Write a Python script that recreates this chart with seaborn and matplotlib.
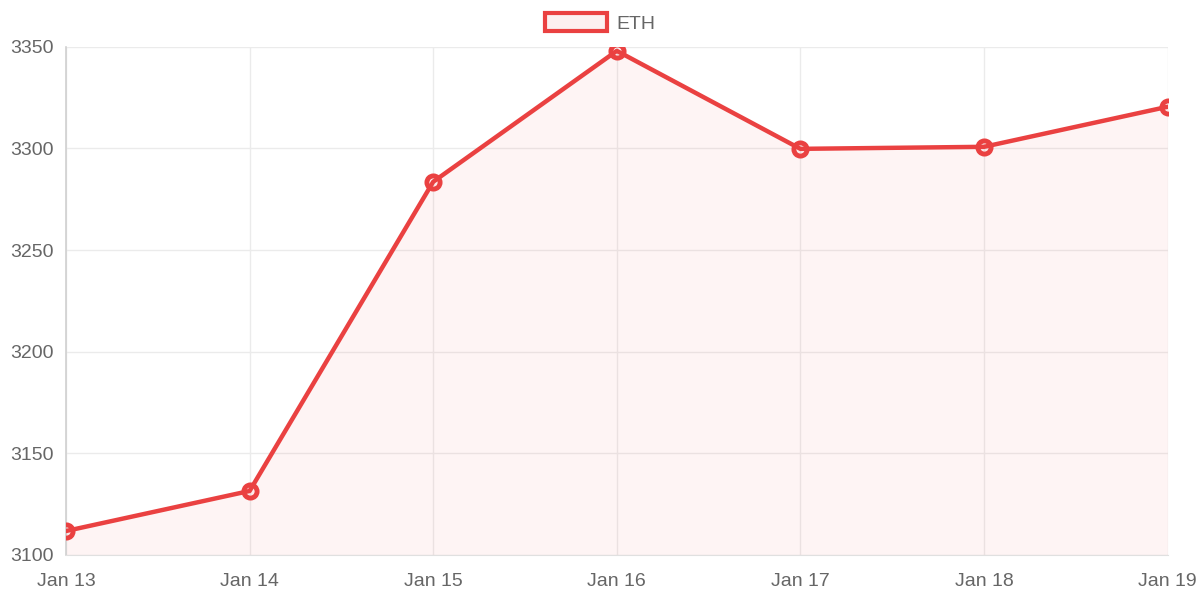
import matplotlib
matplotlib.use("Agg")
import matplotlib.pyplot as plt
from matplotlib.patches import Patch
import seaborn as sns
import pandas as pd

dates = ["Jan 13", "Jan 14", "Jan 15", "Jan 16", "Jan 17", "Jan 18", "Jan 19"]
eth_price = [3111.8, 3131.5, 3283.6, 3348.0, 3299.8, 3300.8, 3320.5]
y_ticks = [3100, 3150, 3200, 3250, 3300, 3350]

red = "#ea4141"
fill_color = (239 / 255, 68 / 255, 68 / 255, 0.06)
text_color = "#666666"

sns.set_style("white")
plt.rcParams["font.family"] = ["Liberation Sans", "DejaVu Sans"]

df = pd.DataFrame({"pos": range(len(dates)), "date": dates, "price": eth_price})

fig, ax = plt.subplots(figsize=(12, 6), dpi=100)
fig.subplots_adjust(left=0.055, right=0.973, top=0.922, bottom=0.075)

ax.fill_between(df["pos"], df["price"], y_ticks[0], color=fill_color, linewidth=0, zorder=1)
sns.lineplot(data=df, x="pos", y="price", ax=ax, color=red, linewidth=3.2,
             marker="o", markersize=9.5, markerfacecolor=fill_color,
             markeredgecolor=red, markeredgewidth=3.5, zorder=3)

ax.set_xlim(0, len(dates) - 1)
ax.set_ylim(y_ticks[0], y_ticks[-1])
ax.set_xticks(df["pos"])
ax.set_xticklabels(dates)
ax.set_yticks(y_ticks)
ax.set_xlabel("")
ax.set_ylabel("")

ax.grid(True, color="#ebebeb", linewidth=1, zorder=0)
ax.set_axisbelow(True)
for side in ["top", "right"]:
    ax.spines[side].set_visible(False)
ax.spines["left"].set_color("#d0d0d0")
ax.spines["bottom"].set_color("#e0e0e0")
ax.spines["left"].set_linewidth(1.2)
ax.tick_params(axis="both", colors="#e6e6e6", labelcolor=text_color, labelsize=14,
               length=8, width=1, direction="out", pad=1)
ax.tick_params(axis="x", length=10, pad=3)

handle = Patch(facecolor=(0.99, 0.94, 0.94), edgecolor=red, linewidth=3)
fig.legend([handle], ["ETH"], loc="center", bbox_to_anchor=(0.5, 1 - 23 / 600),
           frameon=False, fontsize=14, labelcolor=text_color,
           handlelength=3.2, handleheight=1.0, handletextpad=0.45)

fig.savefig("out.png", dpi=100)
